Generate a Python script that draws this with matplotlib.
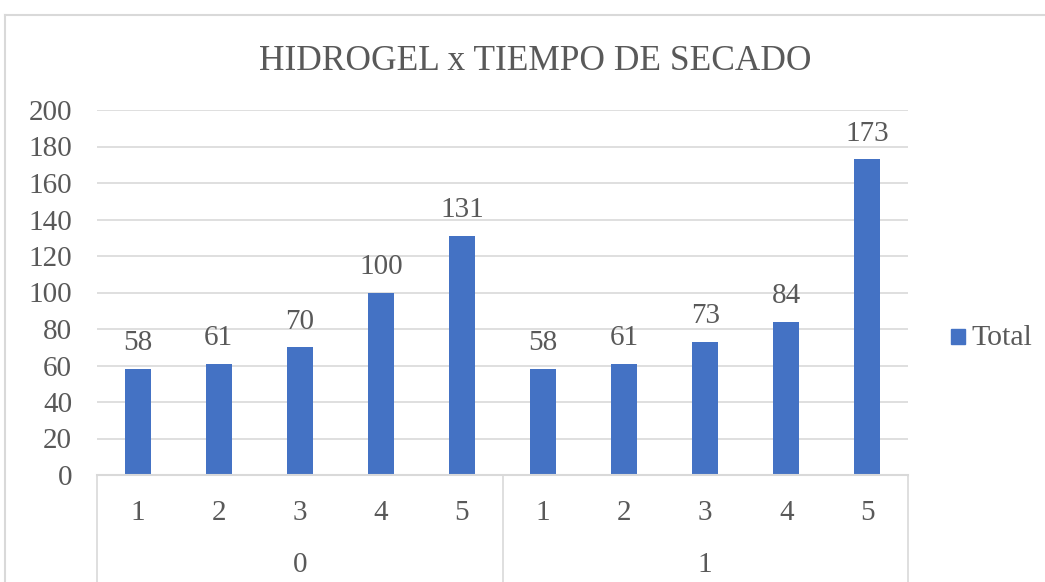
import matplotlib
matplotlib.use("Agg")
import matplotlib.pyplot as plt
from matplotlib.patches import Rectangle
from matplotlib.lines import Line2D

title = "HIDROGEL x TIEMPO DE SECADO"
groups = ["0", "1"]
sub_labels = ["1", "2", "3", "4", "5"]
values_g0 = [58, 61, 70, 100, 131]
values_g1 = [58, 61, 73, 84, 173]
series_name = "Total"
yticks = [0, 20, 40, 60, 80, 100, 120, 140, 160, 180, 200]

bar_color = "#4472C4"
text_color = "#595959"
grid_color = "#D9D9D9"
FS = 21

plt.rcParams['font.family'] = ['Liberation Serif', 'DejaVu Serif']

W, H = 1045, 582
fig = plt.figure(figsize=(W / 100, H / 100), dpi=100)

# outer chart border
fig.add_artist(Line2D([5 / W, 5 / W], [0, 1 - 15 / H], transform=fig.transFigure,
                      color=grid_color, lw=1.5))
fig.add_artist(Line2D([5 / W, 1], [1 - 15 / H, 1 - 15 / H], transform=fig.transFigure,
                      color=grid_color, lw=1.5))

left, right = 97 / W, 908 / W
bottom, top = 1 - 475 / H, 1 - 110 / H
ax = fig.add_axes([left, bottom, right - left, top - bottom])

values = values_g0 + values_g1
n = len(values)
x = list(range(n))
bars = ax.bar(x, values, width=0.32, color=bar_color, zorder=3)
for xi, v in zip(x, values):
    ax.annotate(str(v), (xi, v), xytext=(0, 18.5), textcoords="offset points",
                ha="center", va="center", fontsize=FS, color=text_color)

ax.set_xlim(-0.5, n - 0.5)
ax.set_ylim(0, 200)
ax.set_yticks(yticks)
ax.set_yticklabels([str(t) for t in yticks], fontsize=FS, color=text_color)
ax.tick_params(axis="y", length=0, pad=18)
ax.set_xticks([])
ax.grid(axis="y", color=grid_color, lw=1.2, zorder=0)
for s in ["top", "right", "left"]:
    ax.spines[s].set_visible(False)
ax.spines["bottom"].set_color(grid_color)
ax.spines["bottom"].set_linewidth(1.5)
ax.spines["bottom"].set_zorder(4)

# hierarchical category axis
ax_h = top - bottom
y_bottom_axes = -(H - 475) / (ax_h * H)
trans = ax.get_xaxis_transform()
for xs in [-0.5, 4.5, 9.5]:
    ax.add_artist(Line2D([xs, xs], [0, y_bottom_axes], transform=trans,
                         color=grid_color, lw=1.2, clip_on=False))
sub_y = -(513 - 475) / (ax_h * H)
grp_y = -(565 - 475) / (ax_h * H)
for i in range(n):
    ax.text(x[i], sub_y, sub_labels[i % 5], transform=trans, ha="center", va="center",
            fontsize=FS, color=text_color)
for gi, g in enumerate(groups):
    ax.text(gi * 5 + 2, grp_y, g, transform=trans, ha="center", va="center",
            fontsize=FS, color=text_color)

fig.text(535 / W, 1 - 61 / H, title, ha="center", va="center", fontsize=25.5,
         color=text_color)

# legend
fig.add_artist(Rectangle((951 / W, 1 - 344 / H), 14 / W, 15 / H,
                         transform=fig.transFigure, color=bar_color))
fig.text(971 / W, 1 - 338 / H, series_name, ha="left", va="center", fontsize=21.5,
         color=text_color)

fig.savefig("out.png", dpi=100)
